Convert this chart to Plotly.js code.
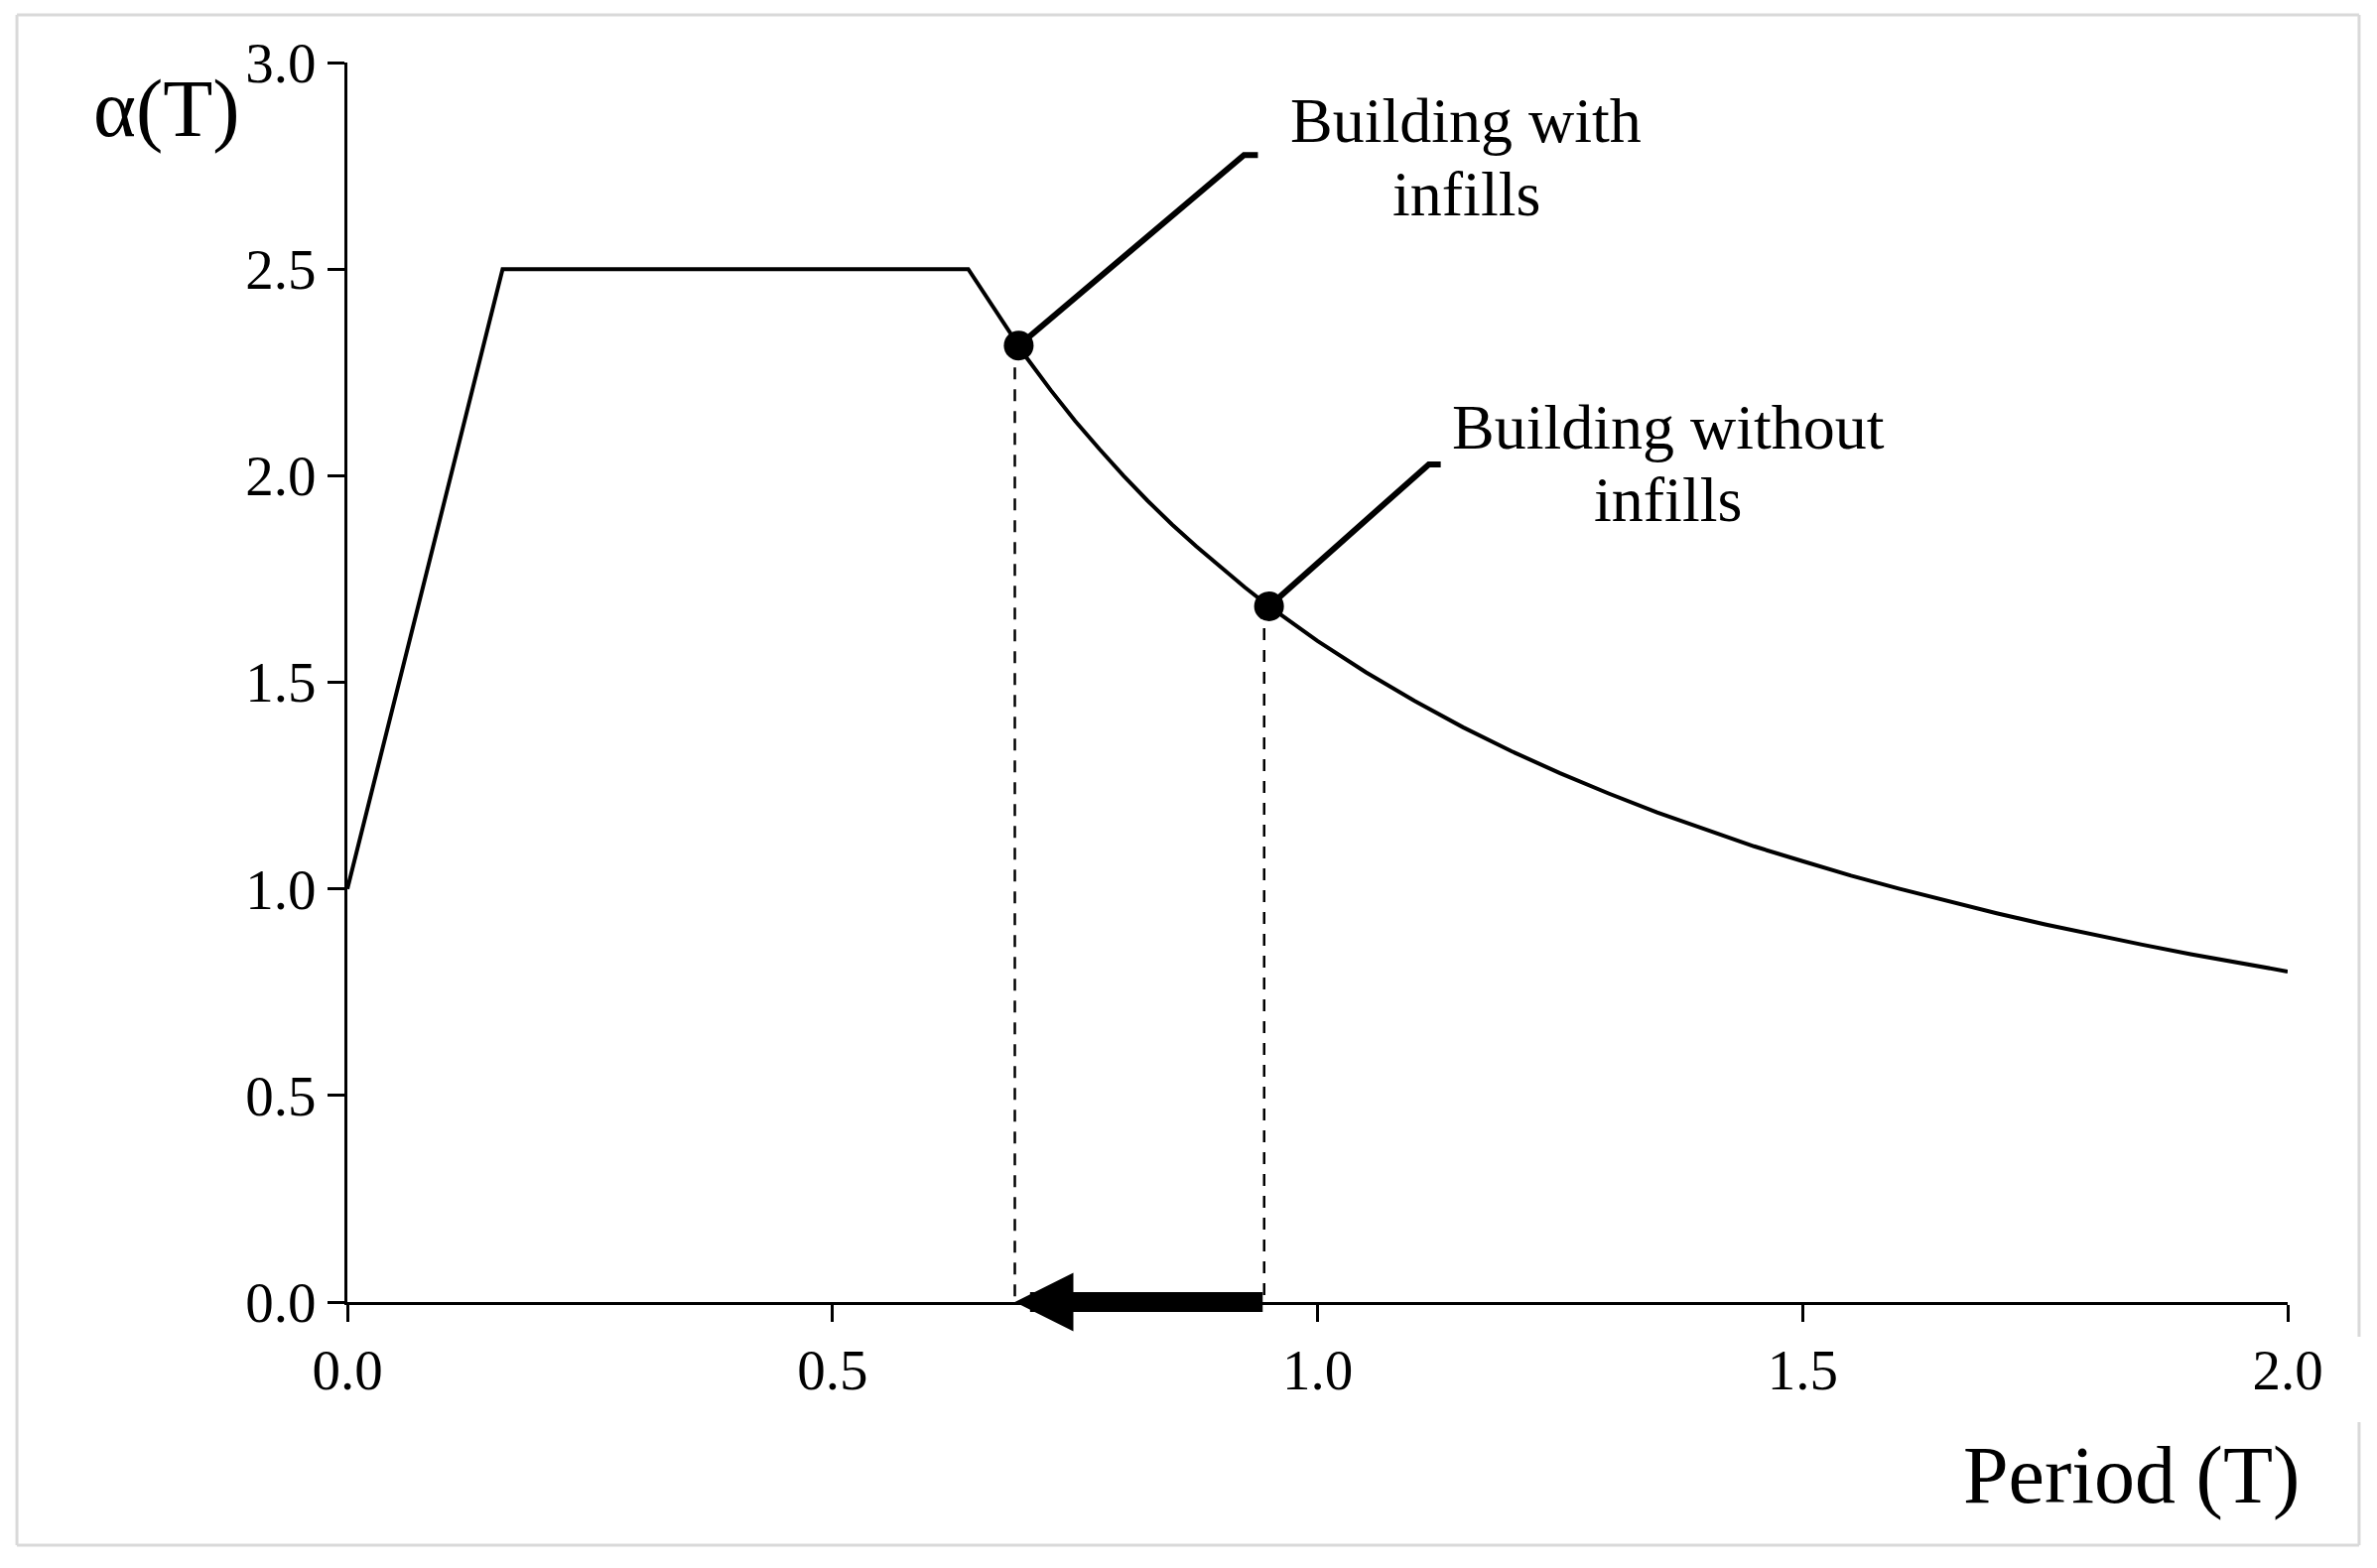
<!DOCTYPE html>
<html>
<head>
<meta charset="utf-8">
<script src="https://cdn.plot.ly/plotly-3.0.1.min.js"></script>
<style>
    body { margin: 0; background: #ffffff; }
    #myPlot { width: 2395px; height: 1580px; }
</style>
</head>
<body>
<div id="myPlot"></div>
<script>
// Spectrum values
const periodT = [0.00, 0.16, 0.64, 0.69, 0.70, 0.725, 0.75, 0.775, 0.80, 0.825, 0.85, 0.875, 0.90, 0.925,
                 0.95, 0.975, 1.00, 1.05, 1.10, 1.15, 1.20, 1.25, 1.30, 1.35, 1.40, 1.45, 1.50, 1.55,
                 1.60, 1.65, 1.70, 1.75, 1.80, 1.85, 1.90, 1.95, 2.00];
const alphaT = [1.000, 2.500, 2.500, 2.320, 2.286, 2.207, 2.133, 2.065, 2.000, 1.939, 1.882, 1.829, 1.778, 1.730,
                1.684, 1.641, 1.600, 1.524, 1.455, 1.391, 1.333, 1.280, 1.231, 1.185, 1.143, 1.103, 1.067, 1.032,
                1.000, 0.970, 0.941, 0.914, 0.889, 0.865, 0.842, 0.821, 0.800];

// The two buildings
const buildingT = [0.692, 0.950];
const buildingAlpha = [2.315, 1.684];
const dropT = [0.688, 0.945];
const labelTop = ['Building with', 'Building without'];
const labelBottom = ['infills', 'infills'];

const xTicks = [0, 0.5, 1.0, 1.5, 2.0];
const yTicks = [0, 0.5, 1.0, 1.5, 2.0, 2.5, 3.0];

const serif = 'Liberation Serif, Times New Roman, serif';

// Dashed drop lines from each point to the period axis
const traces = dropT.map((t, i) => ({
    x: [t, t],
    y: [buildingAlpha[i], 0],
    type: 'scatter',
    mode: 'lines',
    line: { color: '#000000', width: 2.5, dash: '12px,10px' },
    hoverinfo: 'skip'
}));

traces.push({
    x: periodT,
    y: alphaT,
    type: 'scatter',
    mode: 'lines',
    line: { color: '#000000', width: 4 },
    cliponaxis: false
});

traces.push({
    x: buildingT,
    y: buildingAlpha,
    type: 'scatter',
    mode: 'markers',
    marker: { color: '#000000', size: 30 },
    cliponaxis: false
});

// Callout leaders (pixel offsets from each point)
const leaderPaths = ['M0,0 L227,192 L241,192', 'M0,0 L161,143 L173,143'];
const shapes = buildingT.map((t, i) => ({
    type: 'path',
    xref: 'x', yref: 'y',
    xsizemode: 'pixel', ysizemode: 'pixel',
    xanchor: t, yanchor: buildingAlpha[i],
    path: leaderPaths[i],
    line: { color: '#000000', width: 6 }
}));

// Light grey frame round the figure (right side has a gap next to "2.0")
const frameColor = '#d9d9d9';
[
    [-0.1703, 1.0384, 1.0368, 1.0384],
    [-0.1703, -0.1962, 1.0368, -0.1962],
    [-0.1703, -0.1962, -0.1703, 1.0384],
    [1.0368, 1.0384, 1.0368, -0.0280],
    [1.0368, -0.0969, 1.0368, -0.1962]
].forEach(s => {
    shapes.push({
        type: 'line', xref: 'paper', yref: 'paper',
        x0: s[0], y0: s[1], x1: s[2], y1: s[3],
        line: { color: frameColor, width: 3 }
    });
});

// Labels next to the points
const labelShift = [[451, 227, 153], [402, 180, 107]];
const annotations = [];
buildingT.forEach((t, i) => {
    [labelTop[i], labelBottom[i]].forEach((txt, j) => {
        annotations.push({
            x: t, y: buildingAlpha[i], xref: 'x', yref: 'y',
            text: txt, showarrow: false,
            xanchor: 'center', yanchor: 'middle',
            xshift: labelShift[i][0], yshift: labelShift[i][j + 1],
            font: { family: serif, size: 64, color: '#000000' }
        });
    });
});

// Period shift arrow on the axis
annotations.push({
    x: dropT[0], y: 0, xref: 'x', yref: 'y',
    ax: dropT[1], ay: 0, axref: 'x', ayref: 'y',
    text: '', showarrow: true,
    arrowhead: 2, arrowwidth: 20, arrowsize: 0.59, arrowcolor: '#000000'
});

// Axis titles
annotations.push({
    x: -0.0931, y: 0.9624, xref: 'paper', yref: 'paper',
    text: 'α(T)', showarrow: false, xanchor: 'center', yanchor: 'middle',
    font: { family: serif, size: 82, color: '#000000' }
});
annotations.push({
    x: 0.9192, y: -0.1401, xref: 'paper', yref: 'paper',
    text: 'Period (T)', showarrow: false, xanchor: 'center', yanchor: 'middle',
    font: { family: serif, size: 82, color: '#000000' }
});

const layout = {
    width: 2395,
    height: 1580,
    margin: { l: 350, r: 90, t: 63, b: 268 },
    paper_bgcolor: '#ffffff',
    plot_bgcolor: '#ffffff',
    showlegend: false,
    font: { family: serif, size: 57, color: '#000000' },
    xaxis: {
        range: [0, 2],
        tickvals: xTicks,
        tickformat: '.1f',
        showgrid: false,
        zeroline: false,
        showline: true,
        linecolor: '#000000',
        linewidth: 3,
        ticks: 'outside',
        ticklen: 17,
        tickwidth: 3,
        tickcolor: '#000000',
        tickfont: { family: serif, size: 57 }
    },
    yaxis: {
        range: [0, 3],
        tickvals: yTicks,
        tickformat: '.1f',
        showgrid: false,
        zeroline: false,
        showline: true,
        linecolor: '#000000',
        linewidth: 3,
        ticks: 'outside',
        ticklen: 17,
        tickwidth: 3,
        tickcolor: '#000000',
        tickfont: { family: serif, size: 57 }
    },
    shapes: shapes,
    annotations: annotations
};

Plotly.newPlot('myPlot', traces, layout, { displayModeBar: false, staticPlot: true });
</script>
</body>
</html>
